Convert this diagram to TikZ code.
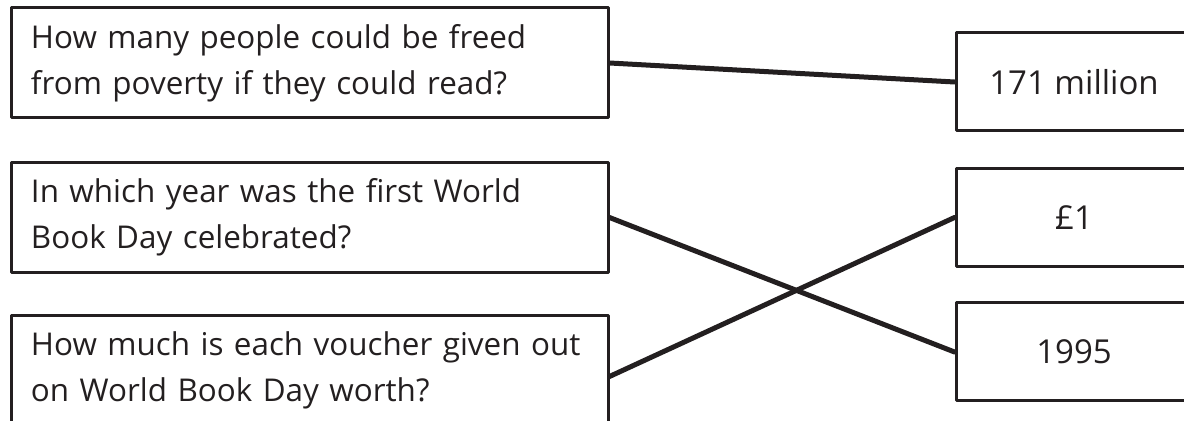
\documentclass[tikz,border=0pt]{standalone}
\usepackage{fontspec}
\setmainfont{Open Sans}
\usepackage{xcolor}
\definecolor{ink}{HTML}{231F20}
\usetikzlibrary{calc}

\begin{document}
\begin{tikzpicture}[x=0.5pt, y=-0.5pt, line cap=round, line join=round,
    question/.style={draw=ink, line width=1.5pt, minimum width=298.5pt, minimum height=55pt,
      inner xsep=10pt, inner ysep=0pt, text width=278.5pt, align=left, text=ink,
      font=\fontsize{15.7}{23}\selectfont},
    answer/.style={draw=ink, line width=1.5pt, minimum width=118pt, minimum height=49pt,
      inner sep=0pt, align=center, text=ink, font=\fontsize{16.5}{23}\selectfont},
    link/.style={draw=ink, line width=2.5pt}]
  \useasboundingbox (0,0) rectangle (1184,421);
  \clip (0,0) rectangle (1184,421);
  %--- Nodes
    \node[question] (Q1) at (309.5,63) {How many people could be freed\\from poverty if they could read?};
    \node[question] (Q2) at (309.5,217.5) {In which year was the first World\\Book Day celebrated?};
    \node[question] (Q3) at (309.5,370.5) {How much is each voucher given out\\on World Book Day worth?};
    \node[answer] (A1) at (1074,82) {171 million};
    \node[answer] (A2) at (1074,217.5) {£1};
    \node[answer] (A3) at (1074,352) {1995};
  %--- Links
    \draw[link] (Q1.east) -- (A1.west);
    \draw[link] (Q2.east) -- (A3.west);
    \draw[link] ([yshift=-3pt]Q3.east) -- (A2.west);
  %---
\end{tikzpicture}
\end{document}
